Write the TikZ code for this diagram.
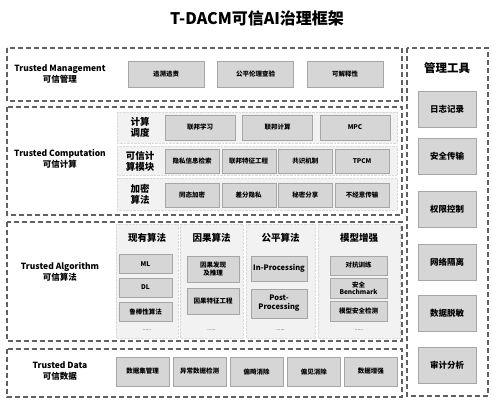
\documentclass[tikz,border=0pt]{standalone}
\usepackage{fontspec}
\setmainfont{Noto Sans CJK SC}
\begin{document}
\begin{tikzpicture}[
    x=1pt, y=-1pt,
    frame/.style={draw=black!62, line width=1.1pt, dash pattern=on 5pt off 3pt},
    panel/.style={fill=black!5, draw=black!15, densely dotted},
    box/.style={draw=black!35, fill=black!16, inner sep=1pt, align=center, font=\fontsize{6.5}{7.5}\selectfont\bfseries},
    tool/.style={box, minimum width=58, minimum height=36, font=\fontsize{8.5}{10}\selectfont\bfseries},
    layer/.style={align=center, font=\fontsize{8.5}{10.5}\selectfont\bfseries},
    head/.style={align=center, font=\fontsize{9.5}{11}\selectfont\bfseries}
]
\useasboundingbox (0,0) rectangle (500,403);

% 标题
\node[font=\fontsize{16}{18}\selectfont\bfseries] (title) at (257,18) {T-DACM可信AI治理框架};

% 外框
\draw[frame] (7,48) rectangle (402,101);
\draw[frame] (7,107) rectangle (402,215);
\draw[frame] (7,222) rectangle (402,341);
\draw[frame] (7,349) rectangle (402,397);
\draw[frame] (407,48) rectangle (488,396);

% Trusted Management
\node[layer] (tm) at (60,74) {Trusted Management\\可信管理};
\foreach \t [count=\i] in {追溯追责,公平伦理查验,可解释性} {
    \node[box, minimum width=76, minimum height=26] (m\i) at (166+89.5*\i-89.5,74) {\t};
}

% Trusted Computation
\node[layer] (tc) at (60,159) {Trusted Computation\\可信计算};
\draw[panel] (117,112) rectangle (397,143);
\draw[panel] (117,146) rectangle (397,175);
\draw[panel] (117,178) rectangle (397,210);
\node[head] (r1) at (140,127.5) {计算\\调度};
\node[head] (r2) at (140,161) {可信计\\算模块};
\node[head] (r3) at (140,194) {加密\\算法};
\foreach \t [count=\i] in {联邦学习,联邦计算,MPC} {
    \node[box, minimum width=70, minimum height=25] (c1\i) at (200+77.5*\i-77.5,127.5) {\t};
}
\foreach \t [count=\i] in {隐私信息检索,联邦特征工程,共识机制,TPCM} {
    \node[box, minimum width=54, minimum height=24] (c2\i) at (192+56.7*\i-56.7,161) {\t};
}
\foreach \t [count=\i] in {同态加密,差分隐私,秘密分享,不经意传输} {
    \node[box, minimum width=54, minimum height=24] (c3\i) at (192+56.7*\i-56.7,195) {\t};
}

% Trusted Algorithm
\node[layer] (ta) at (60,272) {Trusted Algorithm\\可信算法};
\draw[panel] (116,224) rectangle (178,338);
\draw[panel] (180,224) rectangle (243,338);
\draw[panel] (246,224) rectangle (315,338);
\draw[panel] (318,224) rectangle (400,338);
\foreach \t/\x [count=\i] in {现有算法/147, 因果算法/211.5, 公平算法/280.5, 模型增强/359} {
    \node[head] (h\i) at (\x,238) {\t};
    \node[font=\tiny] (d\i) at (\x,330) {......};
}
\node[box, minimum width=53, minimum height=19] (a11) at (145.5,264) {ML};
\node[box, minimum width=53, minimum height=19] (a12) at (145.5,287.5) {DL};
\node[box, minimum width=53, minimum height=19] (a13) at (145.5,311.5) {鲁棒性算法};
\node[box, minimum width=52, minimum height=26] (a21) at (213,269) {因果发现\\及推理};
\node[box, minimum width=52, minimum height=26] (a22) at (213,301) {因果特征工程};
\node[box, minimum width=56, minimum height=25, font=\fontsize{7.5}{9}\selectfont\bfseries] (a31) at (279,268.5) {In-Processing};
\node[box, minimum width=56, minimum height=29, font=\fontsize{7.5}{9}\selectfont\bfseries] (a32) at (279,303.5) {Post-\\Processing};
\node[box, minimum width=57, minimum height=19] (a41) at (358.5,265.5) {对抗训练};
\node[box, minimum width=57, minimum height=20] (a42) at (358.5,288) {安全\\Benchmark};
\node[box, minimum width=57, minimum height=20] (a43) at (358.5,311) {模型安全检测};

% Trusted Data
\node[layer] (td) at (60,371) {Trusted Data\\可信数据};
\foreach \t [count=\i] in {数据集管理,异常数据检测,偏畸消除,偏见消除,数据增强} {
    \node[box, minimum width=53, minimum height=29] (e\i) at (142.5+57.1*\i-57.1,371.5) {\t};
}

% 管理工具
\node[font=\fontsize{11.5}{13}\selectfont\bfseries] (tools) at (447,68) {管理工具};
\foreach \t/\y [count=\i] in {日志记录/109, 安全传输/156, 权限控制/209, 网络隔离/262, 数据脱敏/313, 审计分析/365} {
    \node[tool] (t\i) at (447,\y) {\t};
}

\end{tikzpicture}
\end{document}
